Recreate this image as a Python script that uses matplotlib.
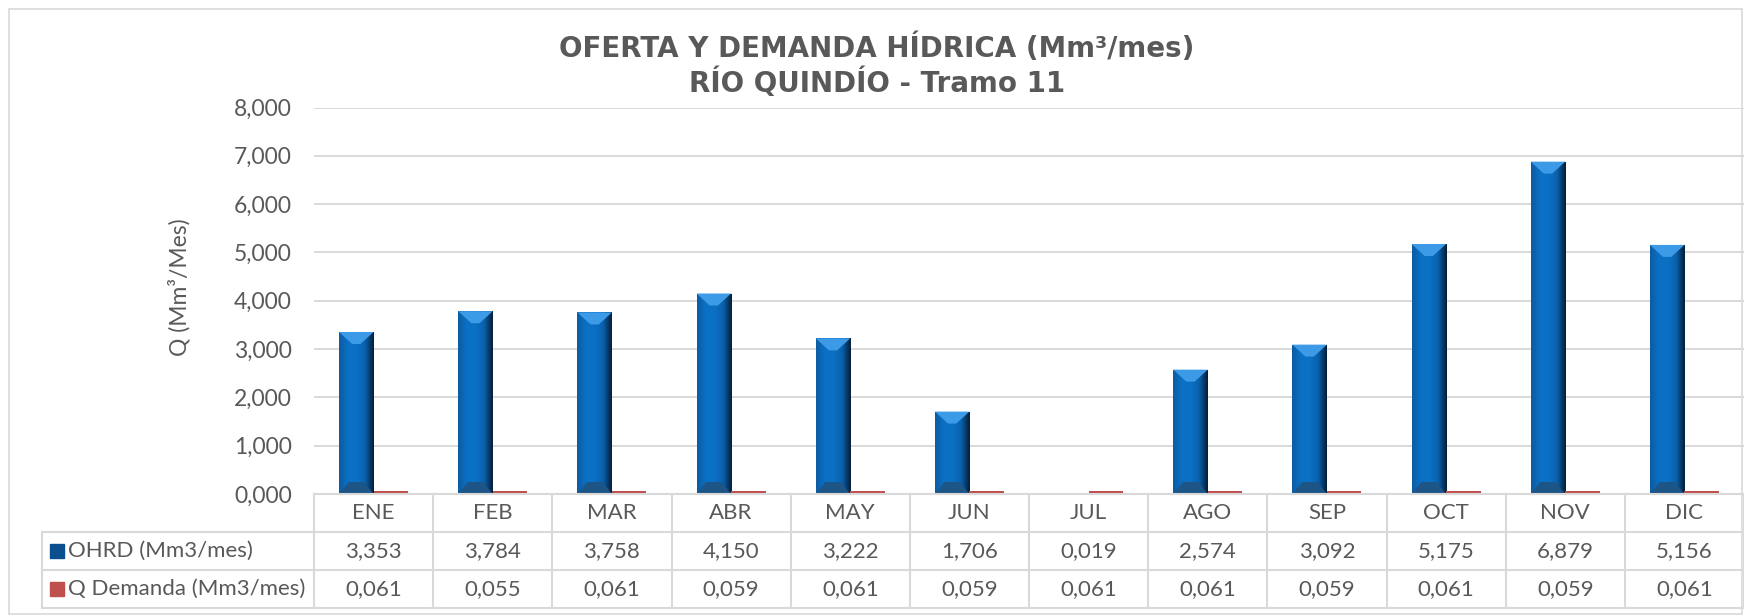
import numpy as np
import matplotlib.pyplot as plt
from matplotlib.patches import Rectangle, Polygon
from matplotlib.transforms import blended_transform_factory

months = ["ENE", "FEB", "MAR", "ABR", "MAY", "JUN", "JUL", "AGO", "SEP", "OCT", "NOV", "DIC"]
ohrd = [3.353, 3.784, 3.758, 4.150, 3.222, 1.706, 0.019, 2.574, 3.092, 5.175, 6.879, 5.156]
demanda = [0.061, 0.055, 0.061, 0.059, 0.061, 0.059, 0.061, 0.061, 0.059, 0.061, 0.059, 0.061]
series_names = ["OHRD (Mm3/mes)", "Q Demanda (Mm3/mes)"]
y_ticks = [0, 1, 2, 3, 4, 5, 6, 7, 8]

GRAY = "#595959"
LINE = "#d9d9d9"
BLUE = "#0b6fc4"
RED = "#c0504d"
W, H = 1744, 615


def fmt(v):
    return f"{v:.3f}".replace(".", ",")


def bevel_bar(ax, rect, px_per_unit):
    # fake the Excel 3D bevel: horizontal gradient + light top / dark bottom chevrons
    x0, y0 = rect.get_x(), rect.get_y()
    w, h = rect.get_width(), rect.get_height()
    cols = np.array([[0.05, 0.36, 0.64], [0.04, 0.44, 0.77], [0.04, 0.44, 0.77],
                     [0.04, 0.38, 0.68], [0.02, 0.12, 0.22]])
    xs = np.linspace(0, 1, len(cols))
    t = np.linspace(0, 1, 60)
    grad = np.stack([np.interp(t, xs, cols[:, i]) for i in range(3)], axis=-1)[None, :, :]
    im = ax.imshow(grad, extent=(x0, x0 + w, y0, y0 + h), aspect="auto", zorder=3)
    im.set_clip_path(rect)
    d = min(12 / px_per_unit, h / 2)
    top = Polygon([(x0, y0 + h), (x0 + w, y0 + h), (x0 + w * 0.62, y0 + h - d),
                   (x0 + w * 0.38, y0 + h - d)], closed=True, color="#3d9ae6", lw=0, zorder=4)
    ax.add_patch(top)
    bot = Polygon([(x0, y0), (x0 + w, y0), (x0 + w * 0.72, y0 + d),
                   (x0 + w * 0.28, y0 + d)], closed=True, color="#1d5587", lw=0, zorder=4)
    ax.add_patch(bot)


plt.rcParams["font.family"] = ["Lato", "DejaVu Sans"]

fig = plt.figure(figsize=(W / 100, H / 100), dpi=100)
fig.patch.set_facecolor("white")
fig.patches.append(Rectangle((9 / W, 1 / H), (1742 - 9) / W, (614 - 9) / H,
                             transform=fig.transFigure, fill=False, edgecolor=LINE, lw=1.2))

left, right, top, bottom = 314, 1744, 107.5, 494
ax = fig.add_axes([left / W, 1 - bottom / H, (right - left) / W, (bottom - top) / H])
ax.set_xlim(-0.5, 11.5)
ax.set_ylim(0, 8)
ax.set_yticks(y_ticks)
ax.set_yticklabels([fmt(v) for v in y_ticks], fontsize=16.5, color=GRAY)
ax.tick_params(axis="y", length=0, pad=16)
ax.set_xticks([])
for s in ax.spines.values():
    s.set_visible(False)
ax.grid(axis="y", color=LINE, lw=1.4, zorder=0)
ax.set_axisbelow(True)

x = np.arange(len(months))
bw = 0.29
px_per_unit = (bottom - top) / 8
bars = ax.bar(x - bw / 2, ohrd, bw, color=BLUE, zorder=3)
for r in bars:
    bevel_bar(ax, r, px_per_unit)
ax.bar(x + bw / 2, demanda, bw, color=RED, zorder=3)

# data table under the plot
tr = blended_transform_factory(ax.transData, ax.transAxes)
ph = bottom - top
rows = [0, -(532 - bottom) / ph, -(570 - bottom) / ph, -(608 - bottom) / ph]
xl = -0.5 - (left - 42) / ((right - left) / 12)
kw = dict(transform=tr, clip_on=False, color=LINE, lw=1.5, zorder=5)
ax.plot([-0.5, 11.5], [rows[0], rows[0]], **kw)
for yy in rows[1:]:
    ax.plot([xl, 11.5], [yy, yy], **kw)
for k in range(13):
    ax.plot([k - 0.5, k - 0.5], [rows[0], rows[3]], **kw)
ax.plot([xl, xl], [rows[1], rows[3]], **kw)

for i, m in enumerate(months):
    ax.text(i, (rows[0] + rows[1]) / 2, m, transform=tr, ha="center", va="center",
            fontsize=16, color=GRAY)
    ax.text(i, (rows[1] + rows[2]) / 2, fmt(ohrd[i]), transform=tr, ha="center",
            va="center", fontsize=16, color=GRAY)
    ax.text(i, (rows[2] + rows[3]) / 2, fmt(demanda[i]), transform=tr, ha="center",
            va="center", fontsize=16, color=GRAY)

unit_x = (right - left) / 12
key_w, key_h = 14 / unit_x, 14 / ph
for j, (name, c) in enumerate(zip(series_names, ["#0b4f8f", RED])):
    yc = (rows[1 + j] + rows[2 + j]) / 2
    kx = xl + (50 - 42) / unit_x
    ax.add_patch(Rectangle((kx, yc - key_h / 2), key_w, key_h, transform=tr,
                           color=c, clip_on=False, zorder=6))
    ax.text(xl + (68 - 42) / unit_x, yc, name, transform=tr, ha="left", va="center",
            fontsize=16, color=GRAY)

fig.text(179 / W, 1 - 287 / H, "Q (Mm³/Mes)", rotation=90, ha="center", va="center",
         fontsize=16.5, color=GRAY)

fig.text(877 / W, 1 - 57 / H, "OFERTA Y DEMANDA HÍDRICA (Mm³/mes)", ha="center",
         va="baseline", fontsize=20, fontweight="bold", color=GRAY, family="DejaVu Sans")
fig.text(877 / W, 1 - 92 / H, "RÍO QUINDÍO - Tramo 11", ha="center", va="baseline",
         fontsize=20, fontweight="bold", color=GRAY, family="DejaVu Sans")

fig.savefig("out.png", dpi=100)
